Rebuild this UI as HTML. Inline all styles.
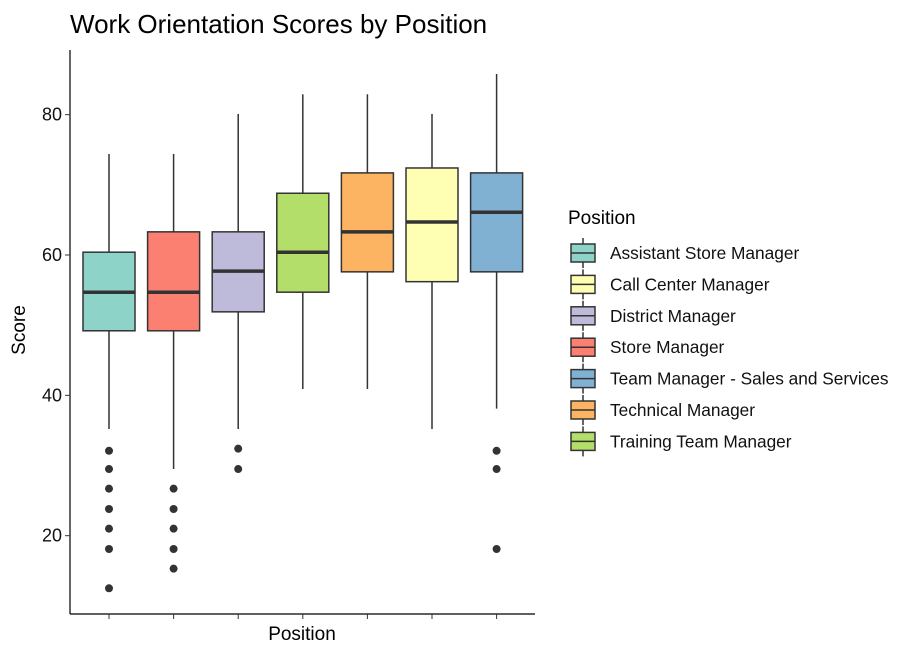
<!DOCTYPE html>
<html><head><meta charset="utf-8"><style>
body{margin:0;background:#fff;font-family:"Liberation Sans",Arial,sans-serif;}
svg text{font-family:"Liberation Sans",Arial,sans-serif;}
</style></head><body>
<svg id="chart" width="906" height="660" xmlns="http://www.w3.org/2000/svg">
<text x="70" y="33" font-size="26" fill="#000">Work Orientation Scores by Position</text>
<g id="plot"></g>
<g id="legend"></g>
</svg>
<script>
const categories=["Assistant Store Manager","Store Manager","District Manager","Training Team Manager","Technical Manager","Call Center Manager","Team Manager - Sales and Services"];
const colors=["#8dd3c7","#fb8072","#bebada","#b3de69","#fdb462","#ffffb3","#80b1d3"];
const whiskerHigh=[74.4,74.4,80.1,82.9,82.9,80.1,85.8];
const q3=[60.4,63.3,63.3,68.8,71.7,72.4,71.7];
const medians=[54.7,54.7,57.7,60.4,63.3,64.7,66.1];
const q1=[49.2,49.2,51.9,54.7,57.6,56.2,57.6];
const whiskerLow=[35.2,29.5,35.2,40.9,40.9,35.2,38.1];
const outliers=[[32.1,29.5,26.7,23.8,21.0,18.1,12.5],[26.7,23.8,21.0,18.1,15.3],[32.4,29.5],[],[],[],[32.1,29.5,18.1]];
const yTicks=[20,40,60,80];
const legendOrder=["Assistant Store Manager","Call Center Manager","District Manager","Store Manager","Team Manager - Sales and Services","Technical Manager","Training Team Manager"];

const NS="http://www.w3.org/2000/svg";
const px0=70,px1=535,py0=50,py1=614;
const y=v=>255-(v-60)*7.017;
const x=i=>109+i*64.6;
function mk(tag,attrs,parent){const e=document.createElementNS(NS,tag);for(const k in attrs)e.setAttribute(k,attrs[k]);parent.appendChild(e);return e;}
const plot=document.getElementById('plot');
const ya=mk('line',{x1:px0,y1:py0,x2:px0,y2:py1,stroke:'#000','stroke-width':1.2},plot);


const xa=mk('line',{x1:px0,y1:py1,x2:px1,y2:py1,stroke:'#000','stroke-width':1.2},plot);


yTicks.forEach(t=>{
 mk('line',{x1:px0-5,y1:y(t),x2:px0,y2:y(t),stroke:'#333'},plot);
 const tx=mk('text',{x:px0-8,y:y(t)+6,'text-anchor':'end','font-size':18,fill:'#111'},plot);
 tx.textContent=t;
 
 
});
categories.forEach((c,i)=>{
 mk('line',{x1:x(i),y1:py1,x2:x(i),y2:py1+5,stroke:'#333'},plot);
 const g=mk('g',{},plot);
 
 
 mk('line',{x1:x(i),y1:y(whiskerHigh[i]),x2:x(i),y2:y(q3[i]),stroke:'#333','stroke-width':1.5},g);
 mk('line',{x1:x(i),y1:y(q1[i]),x2:x(i),y2:y(whiskerLow[i]),stroke:'#333','stroke-width':1.5},g);
 mk('rect',{x:x(i)-26,y:y(q3[i]),width:52,height:y(q1[i])-y(q3[i]),fill:colors[i],stroke:'#333','stroke-width':1.5},g);
 mk('line',{x1:x(i)-26,y1:y(medians[i]),x2:x(i)+26,y2:y(medians[i]),stroke:'#333','stroke-width':3.5},g);
 outliers[i].forEach(o=>{
  const p=mk('circle',{cx:x(i),cy:y(o),r:4,fill:'#333'},g);
  
  
 });
});
const yt=mk('text',{x:25,y:330,'text-anchor':'middle','font-size':19,transform:'rotate(-90 25 330)'},plot);
yt.textContent='Score';


const xt=mk('text',{x:302,y:640,'text-anchor':'middle','font-size':19},plot);
xt.textContent='Position';


const lg=document.getElementById('legend');
const lt=mk('text',{x:568,y:224,'font-size':19},lg);
lt.textContent='Position';


legendOrder.forEach((c,j)=>{
 const i=categories.indexOf(c);
 const cy=253+j*31.4;
 const g=mk('g',{},lg);
 
 
 mk('line',{x1:583,y1:cy-15,x2:583,y2:cy+15,stroke:'#333','stroke-width':1.5},g);
 mk('rect',{x:571,y:cy-9,width:24,height:18,fill:colors[i],stroke:'#333','stroke-width':1.5},g);
 mk('line',{x1:571,y1:cy,x2:595,y2:cy,stroke:'#333','stroke-width':1.5},g);
 const t=mk('text',{x:610,y:cy+6,'font-size':17.3,fill:'#111'},g);
 t.textContent=c;
});
</script>
</body></html>
